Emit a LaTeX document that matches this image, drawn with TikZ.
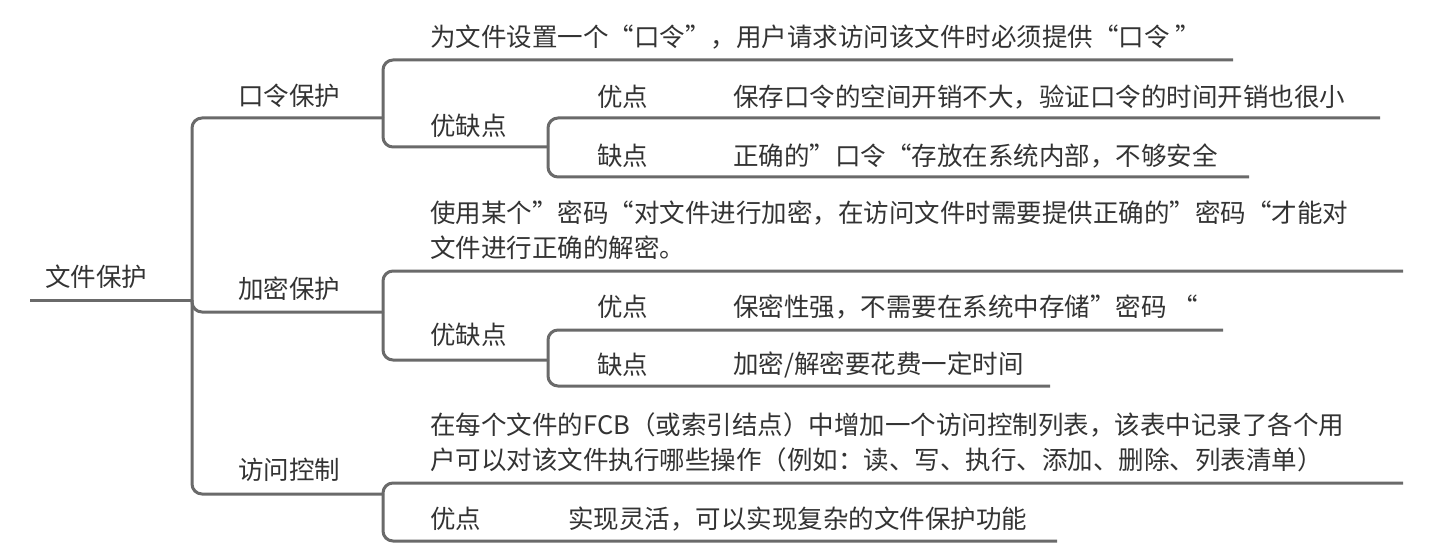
\documentclass[tikz,border=0pt]{standalone}
\usepackage{fontspec}
\setmainfont{Noto Sans CJK SC}
\definecolor{linegray}{HTML}{6A6A6A}
\definecolor{textgray}{HTML}{333333}
\tikzset{
  link/.style={draw=linegray, line width=3pt, rounded corners=10pt},
  lbl/.style={anchor=west, inner sep=0pt, text=textgray, font=\fontsize{25.5}{35}\selectfont, align=left},
}
\begin{document}
\begin{tikzpicture}[x=1pt,y=-1pt]
\useasboundingbox (0,0) rectangle (1431,556);

% junction coordinates
\coordinate (root-w) at (30,300);
\coordinate (root-e) at (192,300);
\coordinate (b1-e) at (383,118);
\coordinate (b2-e) at (383,312);
\coordinate (b3-e) at (383,494);
\coordinate (d1-e) at (1233,60);
\coordinate (p1-e) at (548,147);
\coordinate (a1-e) at (1380,118);
\coordinate (c1-e) at (1249,177);
\coordinate (d2-e) at (1403,271);
\coordinate (p2-e) at (548,360);
\coordinate (a2-e) at (1223,330);
\coordinate (c2-e) at (1050,386);
\coordinate (d3-e) at (1403,483);
\coordinate (a3-e) at (1057,541);

% connectors
\draw[link] (root-w) -- (root-e);
\draw[link] (root-e) |- (b1-e);
\draw[link] (root-e) |- (b2-e);
\draw[link] (root-e) |- (b3-e);

\draw[link] (b1-e) |- (d1-e);
\draw[link] (b1-e) |- (p1-e);
\draw[link] (p1-e) |- (a1-e);
\draw[link] (p1-e) |- (c1-e);

\draw[link] (b2-e) |- (d2-e);
\draw[link] (b2-e) |- (p2-e);
\draw[link] (p2-e) |- (a2-e);
\draw[link] (p2-e) |- (c2-e);

\draw[link] (b3-e) |- (d3-e);
\draw[link] (b3-e) |- (a3-e);

% labels
\node[lbl] (root) at (45,277) {文件保护};

\node[lbl] (b1) at (238,96) {口令保护};
\node[lbl] (d1) at (430,37) {为文件设置一个“口令”，用户请求访问该文件时必须提供“口令 ”};
\node[lbl] (p1) at (430,126) {优缺点};
\node[lbl] (a1) at (597,97) {优点};
\node[lbl] (a1t) at (733,97) {保存口令的空间开销不大，验证口令的时间开销也很小};
\node[lbl] (c1) at (597,156) {缺点};
\node[lbl] (c1t) at (733,156) {正确的”口令“存放在系统内部，不够安全};

\node[lbl] (b2) at (238,289) {加密保护};
\node[lbl] (d2) at (430,230) {使用某个”密码“对文件进行加密，在访问文件时需要提供正确的”密码“才能对\\文件进行正确的解密。};
\node[lbl] (p2) at (430,335) {优缺点};
\node[lbl] (a2) at (597,307) {优点};
\node[lbl] (a2t) at (733,307) {保密性强，不需要在系统中存储”密码 “};
\node[lbl] (c2) at (597,365) {缺点};
\node[lbl] (c2t) at (733,365) {加密/解密要花费一定时间};

\node[lbl] (b3) at (238,470) {访问控制};
\node[lbl] (d3) at (430,442) {在每个文件的FCB（或索引结点）中增加一个访问控制列表，该表中记录了各个用\\户可以对该文件执行哪些操作（例如：读、写、执行、添加、删除、列表清单）};
\node[lbl] (a3) at (430,519) {优点};
\node[lbl] (a3t) at (568,519) {实现灵活，可以实现复杂的文件保护功能};
\end{tikzpicture}
\end{document}
